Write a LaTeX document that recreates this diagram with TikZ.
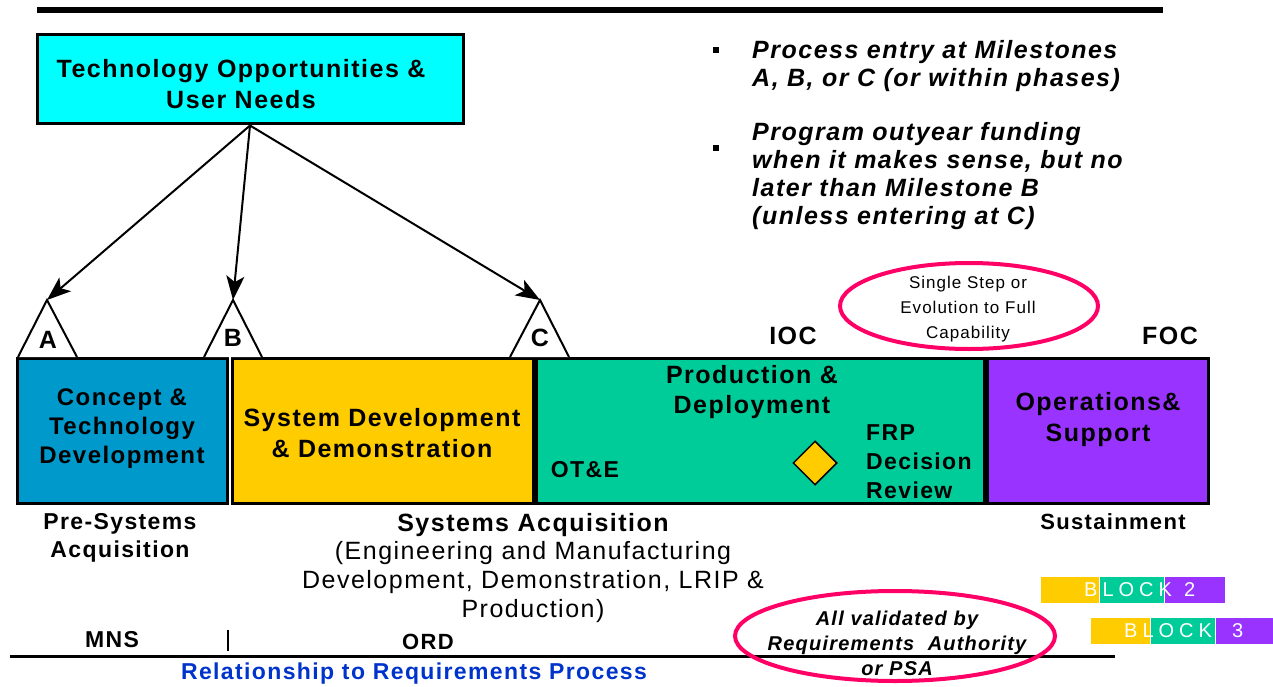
\documentclass[tikz,border=0pt]{standalone}
\usepackage{fontspec}
\setmainfont{Liberation Sans}[LetterSpace=6]
\newfontfamily\blockfont[LetterSpace=25]{Liberation Sans}
\usetikzlibrary{arrows.meta,shapes.geometric}
\definecolor{cyanbox}{HTML}{00FFFF}
\definecolor{cblue}{HTML}{0099CC}
\definecolor{cyellow}{HTML}{FFCC00}
\definecolor{cgreen}{HTML}{00CC99}
\definecolor{cpurple}{HTML}{9933FF}
\definecolor{cred}{HTML}{FF0066}
\definecolor{ctext}{HTML}{0033CC}
\begin{document}
\begin{tikzpicture}[x=1pt,y=-1pt,
  phase/.style={draw=black,line width=3pt,minimum height=145pt,inner sep=0pt},
  bt/.style={font=\bfseries\fontsize{#1}{29}\selectfont,align=center,inner sep=0pt},
  bt/.default=24,
  rt/.style={font=\fontsize{25}{29}\selectfont,align=center,inner sep=0pt},
  bit/.style={font=\bfseries\itshape\fontsize{25}{28}\selectfont,align=left,inner sep=0pt},
  tri/.style={draw=black,fill=white,line width=2pt,line join=miter},
  conn/.style={line width=2pt,-{Stealth[length=24pt,width=18pt,inset=6pt]}},
  oval/.style={draw=cred,line width=4pt},
  blt/.style={font=\blockfont\fontsize{20}{20}\selectfont,text=white,inner sep=0pt,anchor=west}
]
\useasboundingbox (0,0) rectangle (1273,687);
% top bar
\fill[black] (37,7) rectangle (1163,13);
% top box
\node[draw=black,line width=3pt,fill=cyanbox,minimum width=426pt,minimum height=89pt,inner sep=0pt] (top) at (250,79.5) {};
\node[bt=25,font=\bfseries\fontsize{25}{31}\selectfont] (toptxt) at (241,84) {Technology Opportunities \&\\User Needs};
% bullets
\fill (713,47) rectangle (719,53);
\fill (713,145) rectangle (719,151);
\node[bit,anchor=north west] (b1) at (752,40) {Process entry at Milestones\\A, B, or C (or within phases)};
\node[bit,anchor=north west] (b2) at (752,122) {Program outyear funding\\when it makes sense, but no\\later than Milestone B\\(unless entering at C)};
% phase boxes
\node[phase,fill=cblue,minimum width=210pt] (cpt) at (122,430.5) {};
\node[phase,fill=cyellow,minimum width=301pt] (sdd) at (382.5,430.5) {};
\node[phase,fill=cgreen,minimum width=448pt] (pd) at (760,430.5) {};
\node[phase,fill=cpurple,minimum width=221pt] (os) at (1097.5,430.5) {};
% triangles
\filldraw[tri] (18,357) -- (47,300) coordinate (Aapex) -- (77,357);
\filldraw[tri] (204,357) -- (233,300) coordinate (Bapex) -- (262,357);
\filldraw[tri] (510,357) -- (540,300) coordinate (Capex) -- (569,357);
\node[bt=25] (A) at (48,340) {A};
\node[bt=25] (B) at (233,338) {B};
\node[bt=25] (C) at (540,338) {C};
% arrows
\draw[conn] (top.south) -- (Aapex);
\draw[conn] (top.south) -- (Bapex);
\draw[conn] (top.south) -- (Capex);
% box texts
\node[bt] (t1) at (122,429) {Concept \&\\Technology\\Development};
\node[bt=25,font=\bfseries\fontsize{25}{31}\selectfont] (t2) at (382,433) {System Development\\\& Demonstration};
\node[bt=25,font=\bfseries\fontsize{25}{30}\selectfont] (t3) at (752,392) {Production \&\\Deployment};
\node[bt=23] (ote) at (585,470) {OT\&E};
\node[diamond,draw=black,fill=cyellow,line width=1.5pt,minimum width=44pt,minimum height=44pt,inner sep=0pt] (frp) at (815,463) {};
\node[bt=23,align=left,anchor=west] (frpt) at (866,462) {FRP\\Decision\\Review};
\node[bt=25,font=\bfseries\fontsize{25}{31}\selectfont] (t4) at (1098,420) {Operations\&\\Support};
\node[bt=25] (ioc) at (793,336) {IOC};
\node[bt=25] (foc) at (1170,336) {FOC};
% ellipse 1
\draw[oval] (969,306) ellipse (129 and 43);
\node[font=\fontsize{17}{25}\selectfont,align=center,inner sep=0pt] (ss) at (968,309) {Single Step or\\Evolution to Full\\Capability};
% lower texts
\node[bt=23,font=\bfseries\fontsize{23}{28}\selectfont] (pre) at (120,538) {Pre-Systems\\Acquisition};
\node[bt=25] (sa) at (533,525) {Systems Acquisition};
\node[rt] (eng) at (533,582) {(Engineering and Manufacturing\\Development, Demonstration, LRIP \&\\Production)};
\node[bt=22] (sus) at (1113,522) {Sustainment};
\node[bt=23] (mns) at (112,640) {MNS};
\node[bt=22] (ord) at (428,642) {ORD};
\draw[line width=2pt] (228,630) -- (228,651);
\draw[line width=3pt] (10,656) -- (1115,656);
\node[bt=23,text=ctext] (rel) at (414,674) {Relationship to Requirements Process};
% ellipse 2
\draw[oval] (895,636) ellipse (160 and 45);
\node[font=\bfseries\itshape\fontsize{20}{25}\selectfont,align=center,inner sep=0pt] (av) at (897,643) {All validated by\\Requirements\ \ Authority\\or PSA};
% blocks
\fill[cyellow] (1041,577) rectangle (1099,603);
\fill[cgreen] (1100,577) rectangle (1164,603);
\fill[cpurple] (1165,577) rectangle (1225,603);
\node[blt] (blk2) at (1084,590) {BLOCK\hspace{12pt}2};
\fill[cyellow] (1091,618) rectangle (1150,644);
\fill[cgreen] (1151,618) rectangle (1215,644);
\fill[cpurple] (1216,618) rectangle (1273,644);
\node[blt] (blk3) at (1124,631) {BLOCK\hspace{20pt}3};
\end{tikzpicture}
\end{document}
